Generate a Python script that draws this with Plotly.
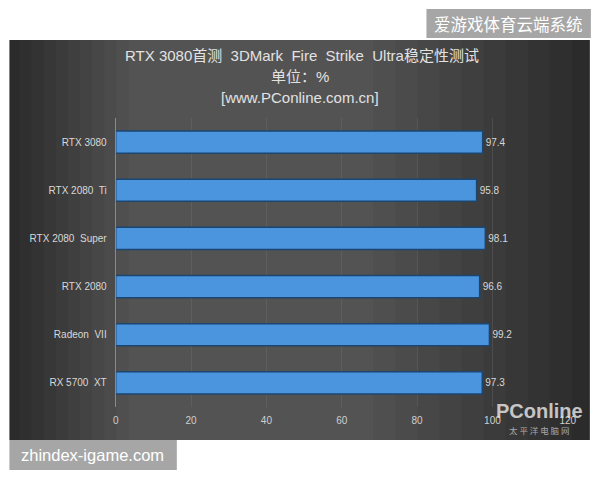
import plotly.graph_objects as go

categories = ["RTX 3080", "RTX 2080  Ti", "RTX 2080  Super", "RTX 2080", "Radeon  VII", "RX 5700  XT"]
values = [97.4, 95.8, 98.1, 96.6, 99.2, 97.3]
value_labels = ["97.4", "95.8", "98.1", "96.6", "99.2", "97.3"]
x_ticks = [0, 20, 40, 60, 80, 100, 120]

# observed horizontal mapping of the photographed page: screen = A + B * page_x
A, B = 3.6, 0.978
W, H = 614, 480
def px(x): return ((x - A) / B) / W
def py(y): return 1 - y / H

fig = go.Figure()
fig.add_trace(go.Bar(
    y=categories, x=values, orientation="h",
    marker=dict(color="#4b94de", line=dict(color="#1c4670", width=1.5)),
    width=0.46,
    text=value_labels, textposition="outside",
    textfont=dict(size=10, color="#d8d8d8", family="Liberation Sans, Arial"),
    cliponaxis=False, hoverinfo="skip",
))

shapes = []
shapes.append(dict(type="rect", xref="paper", yref="paper", x0=px(10), x1=px(589), y0=py(440), y1=py(40),
                   fillcolor="#2b2b2b", line=dict(width=0), layer="below"))
for i in range(10):
    inset = 18 + i * 22
    shapes.append(dict(type="rect", xref="paper", yref="paper",
                       x0=px(10 + inset * 0.55), x1=px(589 - inset), y0=py(440), y1=py(40),
                       fillcolor="rgba(255,255,255,0.022)", line=dict(width=0), layer="below"))
shapes.append(dict(type="rect", xref="paper", yref="paper", x0=px(426), x1=px(590), y0=py(38), y1=py(9),
                   fillcolor="#a6a6a6", line=dict(width=0), layer="above"))
shapes.append(dict(type="rect", xref="paper", yref="paper", x0=px(10), x1=px(177), y0=py(470), y1=py(440),
                   fillcolor="#a6a6a6", line=dict(width=0), layer="above"))

def ann(text, x, y, size, color, family):
    return dict(text=text, x=px(x), y=py(y), xref="paper", yref="paper", xanchor="center", yanchor="middle",
                showarrow=False, font=dict(size=size, color=color, family=family))

annotations = [
    ann("RTX 3080首测  3DMark  Fire  Strike  Ultra稳定性测试", 302, 55, 15, "#e2e2e2", "Liberation Sans, Noto Sans CJK SC"),
    ann("单位：%", 300, 76, 15, "#e2e2e2", "Liberation Sans, Noto Sans CJK SC"),
    ann("[www.PConline.com.cn]", 300, 97, 15, "#e2e2e2", "Liberation Sans, Arial"),
    ann("爱游戏体育云端系统", 508, 24, 16.5, "#ffffff", "Noto Sans CJK SC"),
    ann("zhindex-igame.com", 93, 455, 16.5, "#ffffff", "Liberation Sans, Arial"),
    ann("<b>PConline</b>", 539, 411, 20, "rgba(225,225,225,0.85)", "Liberation Sans, Arial"),
    ann("太 平 洋 电 脑 网", 539, 430, 8.5, "rgba(200,200,200,0.8)", "Noto Sans CJK SC"),
]

fig.update_layout(
    width=W, height=H,
    margin=dict(l=0, r=0, t=0, b=0),
    paper_bgcolor="#ffffff", plot_bgcolor="rgba(0,0,0,0)",
    showlegend=False,
    shapes=shapes, annotations=annotations,
    xaxis=dict(domain=[px(116), px(567)], range=[0, 120], tickvals=x_ticks,
               showgrid=True, gridcolor="rgba(120,120,120,0.3)", gridwidth=1,
               zeroline=False, showline=False,
               tickfont=dict(size=10, color="#cfcfcf", family="Liberation Sans, Arial"),
               ticks="outside", ticklen=4, tickcolor="rgba(0,0,0,0)", fixedrange=True),
    yaxis=dict(domain=[py(407), py(118)], range=[5.5, -0.5], type="category",
               categoryorder="array", categoryarray=categories,
               showgrid=False, zeroline=False, showline=True, linecolor="#8a8a8a", linewidth=1,
               tickfont=dict(size=10, color="#d8d8d8", family="Liberation Sans, Arial"),
               ticks="outside", ticklen=6, tickcolor="rgba(0,0,0,0)", fixedrange=True),
)

fig.write_html("out.html", config={"displayModeBar": False},
               post_script="document.body.style.margin='0';document.body.style.overflow='hidden';")
